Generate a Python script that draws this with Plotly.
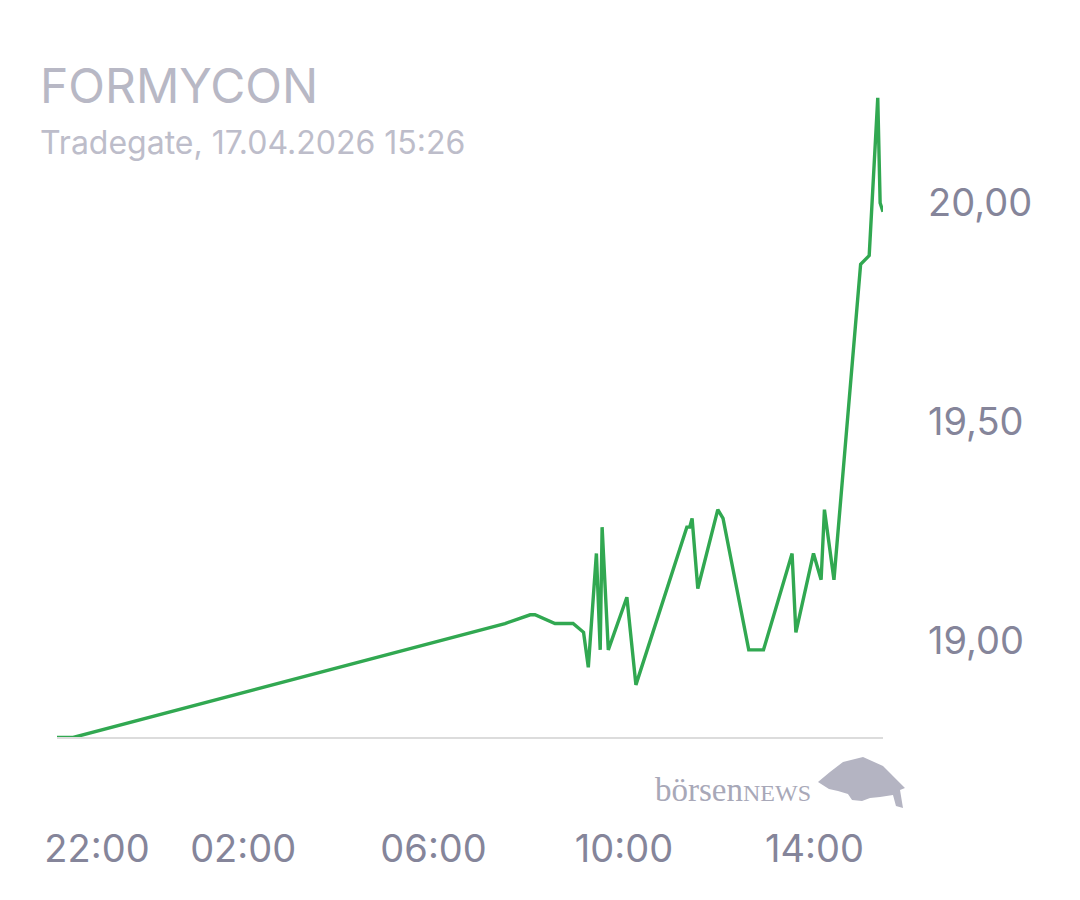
import plotly.graph_objects as go

# Data (hours relative to 17.04 midnight; negative = previous evening)
times = [-1.91, -1.57, 7.50, 8.03, 8.13, 8.55, 8.93, 9.15, 9.25, 9.42, 9.50, 9.54, 9.67,
         10.06, 10.25, 11.32, 11.38, 11.43, 11.55, 11.97, 12.08, 12.62, 12.93, 13.53,
         13.61, 13.98, 14.14, 14.21, 14.41, 14.97, 15.15, 15.33, 15.38, 15.44]
prices = [18.78, 18.78, 19.04, 19.06, 19.06, 19.04, 19.04, 19.02, 18.94, 19.20, 18.98,
          19.26, 18.98, 19.10, 18.90, 19.26, 19.26, 19.28, 19.12, 19.30, 19.28, 18.98,
          18.98, 19.20, 19.02, 19.20, 19.14, 19.30, 19.14, 19.86, 19.88, 20.24, 20.00, 19.98]

x_tick_vals = [-1.07, 2, 6, 10, 14]
x_tick_text = ["22:00", "02:00", "06:00", "10:00", "14:00"]
y_tick_vals = [19.0, 19.5, 20.0]
y_tick_text = ["19,00", "19,50", "20,00"]

title_text = "FORMYCON"
subtitle_text = "Tradegate, 17.04.2026 15:26"

W, H = 1080, 900
OFF = 8  # page offset of the figure
L, R, T, B = 57 - OFF, 883 - OFF, 90 - OFF, 737 - OFF

def px(x):
    return (x - OFF - L) / (R - L)

def py(y):
    return (B - (y - OFF)) / (B - T)

fig = go.Figure()
fig.add_trace(go.Scatter(
    x=times, y=prices, mode="lines",
    line=dict(color="#31a851", width=3.4),
    hoverinfo="skip", showlegend=False,
))

axis_font = dict(family="Inter, sans-serif", size=38, color="#85859a")

fig.update_layout(
    width=W, height=H,
    margin=dict(l=L, r=W - R, t=T, b=H - B, pad=0),
    paper_bgcolor="white", plot_bgcolor="white",
    xaxis=dict(
        range=[-1.91, 15.44], showgrid=False, zeroline=False,
        showline=True, linecolor="#dcdcdc", linewidth=2,
        tickvals=x_tick_vals, ticktext=x_tick_text, ticks="",
        tickfont=axis_font, ticklabelstandoff=77,
    ),
    yaxis=dict(
        range=[18.781, 20.258], showgrid=False, zeroline=False, showline=False,
        side="right", tickvals=y_tick_vals, ticktext=y_tick_text, ticks="",
        tickfont=axis_font, ticklabelstandoff=44,
    ),
    font=dict(family="Inter, sans-serif"),
)

fig.add_annotation(
    xref="paper", yref="paper", x=px(38), y=py(54), xanchor="left", yanchor="top",
    text=title_text, showarrow=False,
    font=dict(family="Inter, sans-serif", size=48, color="#b8b8c5"),
)
fig.add_annotation(
    xref="paper", yref="paper", x=px(38), y=py(121), xanchor="left", yanchor="top",
    text=subtitle_text, showarrow=False,
    font=dict(family="Inter, sans-serif", size=32, color="#bdbdca"),
)

# logo
fig.add_annotation(
    xref="paper", yref="paper", x=px(813), y=py(810), xanchor="right", yanchor="bottom",
    text="börsen<span style='font-size:24px'>NEWS</span>", showarrow=False,
    font=dict(family="Liberation Serif, DejaVu Serif, serif", size=33, color="#a8a8b8"),
)
bull = [(818, 782), (830, 772), (843, 762), (863, 757), (883, 766), (897, 780),
        (905, 788), (900, 790), (903, 808), (896, 806), (893, 795), (880, 797),
        (870, 798), (862, 801), (852, 800), (848, 794), (838, 791), (829, 789), (818, 782)]
path = "M " + " L ".join(f"{px(a):.4f},{py(b):.4f}" for a, b in bull) + " Z"
fig.add_shape(type="path", xref="paper", yref="paper", path=path,
              fillcolor="#b4b4c2", line=dict(width=0))

fig.write_html("out.html")
